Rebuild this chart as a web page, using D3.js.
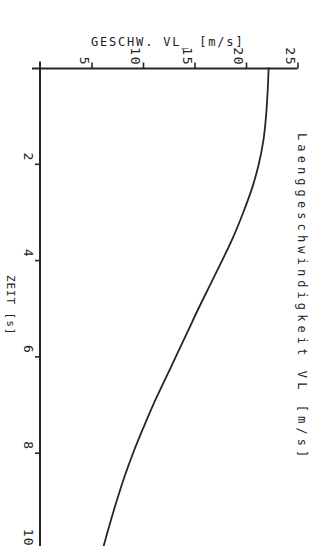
<!DOCTYPE html>
<html>
<head>
<meta charset="utf-8">
<script src="https://cdn.jsdelivr.net/npm/d3@7"></script>
<style>
  html, body { margin: 0; padding: 0; background: #fff; }
  svg { display: block; }
  text { font-family: "DejaVu Sans Mono", "Liberation Mono", monospace; fill: #222; }
</style>
</head>
<body>
<svg id="chart" width="325" height="546"></svg>
<script>
// ---- data ----
const timeValues = [0, 0.5, 1, 1.5, 2, 2.5, 3, 3.5, 4, 4.5, 5, 5.5, 6, 6.5, 7, 7.5, 8, 8.5, 9, 9.5, 10];
const speedValues = [22.2, 22.1, 21.95, 21.7, 21.25, 20.6, 19.75, 18.8, 17.7, 16.55, 15.4, 14.3, 13.2, 12.1, 11.0, 10.0, 9.05, 8.2, 7.45, 6.75, 6.1];
const speedTicks = [5, 10, 15, 20, 25];
const timeTicks = [2, 4, 6, 8, 10];
const speedAxisTitle = "GESCHW. VL_ [m/s]";
const timeAxisTitle = "ZEIT [s]";
const chartTitle = "Laenggeschwindigkeit VL [m/s]";

// ---- layout ----
const svg = d3.select("#chart");
const ink = "#262626";

// rotated chart: speed runs left->right, time runs top->bottom
const x = d3.scaleLinear().domain([0, 25]).range([40, 297.5]);
const y = d3.scaleLinear().domain([0, 10]).range([67.5, 549]);

// axis lines (extend slightly beyond origin, as in plotter output)
svg.append("line")
  .attr("x1", x(0) - 8).attr("x2", x(25))
  .attr("y1", y(0) + 1).attr("y2", y(0) + 1)
  .attr("stroke", ink).attr("stroke-width", 2);
svg.append("line")
  .attr("x1", x(0)).attr("x2", x(0))
  .attr("y1", y(0) - 6).attr("y2", y(10))
  .attr("stroke", ink).attr("stroke-width", 2);

// speed axis (top)
const gx = svg.append("g")
  .attr("transform", `translate(0,${y(0) + 1})`)
  .call(d3.axisTop(x).tickValues(speedTicks).tickSize(6).tickFormat(d3.format("d")));
gx.select(".domain").remove();
gx.selectAll(".tick line").attr("stroke", ink).attr("stroke-width", 1.6);
gx.selectAll(".tick text")
  .attr("x", 0).attr("y", 0).attr("dy", 0)
  .attr("text-anchor", "end")
  .attr("transform", "translate(-12.5,-2.5) rotate(90)")
  .style("font-size", "13px")
  .style("letter-spacing", "1.5px")
  .attr("fill", ink);

// time axis (left)
const gy = svg.append("g")
  .attr("transform", `translate(${x(0)},0)`)
  .call(d3.axisLeft(y).tickValues(timeTicks).tickSize(5).tickFormat(d3.format("d")));
gy.select(".domain").remove();
gy.selectAll(".tick line").attr("stroke", ink).attr("stroke-width", 1.6);
gy.selectAll(".tick text")
  .attr("x", 0).attr("y", 0).attr("dy", 0)
  .attr("text-anchor", "end")
  .attr("transform", "translate(-16,-3) rotate(90)")
  .style("font-size", "13px")
  .style("letter-spacing", "1px")
  .attr("fill", ink);

// curve
const pts = timeValues.map((t, i) => ({ t: t, v: speedValues[i] }));
const line = d3.line()
  .x(d => x(d.v))
  .y(d => y(d.t))
  .curve(d3.curveMonotoneY);
svg.append("path")
  .datum(pts)
  .attr("d", line)
  .attr("fill", "none")
  .attr("stroke", ink)
  .attr("stroke-width", 1.8);

// titles
svg.append("text")
  .attr("x", 91).attr("y", 46)
  .style("font-size", "12px")
  .style("letter-spacing", "1.8px")
  .text(speedAxisTitle);

svg.append("text")
  .attr("transform", "translate(298,133) rotate(90)")
  .style("font-size", "12px")
  .style("letter-spacing", "4.1px")
  .text(chartTitle);

svg.append("text")
  .attr("transform", "translate(7,275) rotate(90)")
  .style("font-size", "11px")
  .style("letter-spacing", "0.9px")
  .text(timeAxisTitle);
</script>
</body>
</html>
